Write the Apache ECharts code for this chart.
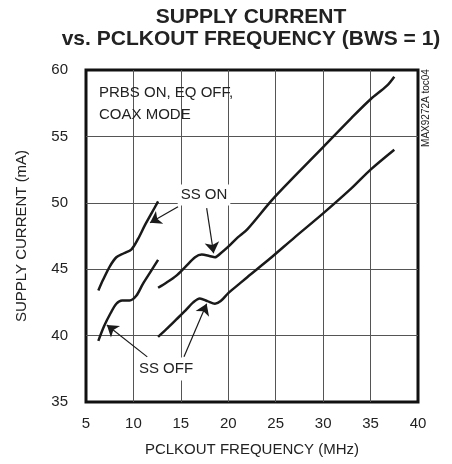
<!DOCTYPE html>
<html>
<head>
<meta charset="utf-8">
<script src="https://cdn.jsdelivr.net/npm/echarts@6/dist/echarts.min.js"></script>
<style>
  html, body { margin: 0; padding: 0; background: #fff; }
  #chart { width: 452px; height: 464px; }
</style>
</head>
<body>
<div id="chart"></div>
<script>
// curves, [MHz, mA]
const ssOnLow = [[6.3, 43.4], [6.8, 44.2], [7.5, 45.2], [8.2, 45.9], [9.0, 46.2], [9.8, 46.5],
  [10.5, 47.3], [11.2, 48.3], [11.9, 49.2], [12.6, 50.1]]
const ssOffLow = [[6.3, 39.6], [6.9, 40.7], [7.6, 41.7], [8.2, 42.4], [8.8, 42.65], [9.6, 42.65],
  [10.3, 43.0], [11.0, 43.9], [11.8, 44.8], [12.6, 45.7]]
const ssOnHigh = [[12.6, 43.6], [13.5, 44.0], [14.5, 44.5], [15.5, 45.2], [16.5, 45.9], [17.2, 46.1],
  [18.0, 46.0], [18.6, 45.9], [19.2, 46.2], [20.0, 46.7], [21.0, 47.4], [22.0, 48.0], [24.6, 50.2],
  [27, 52.0], [30, 54.2], [33, 56.4], [35, 57.8], [36.7, 58.8], [37.5, 59.5]]
const ssOffHigh = [[12.6, 39.9], [13.5, 40.5], [14.5, 41.2], [15.5, 41.9], [16.3, 42.5], [17.0, 42.8],
  [17.8, 42.6], [18.6, 42.4], [19.2, 42.6], [20.0, 43.2], [21.0, 43.8], [22.0, 44.4], [24.4, 45.8],
  [27, 47.4], [30, 49.2], [33, 51.1], [35, 52.5], [37.5, 54.0]]

// annotation arrows, [from, to] in data units
const ssOnArrows = [[[14.7, 49.7], [11.75, 48.5]], [[17.72, 49.6], [18.45, 46.2]]]
const ssOffArrows = [[[11.46, 38.4], [7.2, 40.8]], [[15.33, 38.4], [17.72, 42.4]]]

const xRange = [5, 40]
const yRange = [35, 60]

const FONT = '"Liberation Sans", Arial, sans-serif'
const INK = '#1a1a1a'

const chart = echarts.init(document.getElementById('chart'))

function curve(data, arrows) {
  const s = {
    type: 'line',
    data: data,
    smooth: 0.3,
    showSymbol: false,
    silent: true,
    lineStyle: { color: INK, width: 2.5 }
  }
  if (arrows) {
    s.markLine = {
      silent: true,
      symbol: ['none', 'arrow'],
      symbolSize: 11,
      label: { show: false },
      lineStyle: { color: INK, width: 1.2, type: 'solid' },
      data: arrows.map(a => [{ coord: a[0] }, { coord: a[1] }])
    }
  }
  return s
}

function label(text, x, y, opts) {
  return {
    type: 'text',
    x: x,
    y: y,
    z: 20,
    rotation: (opts && opts.rotation) || 0,
    style: Object.assign({
      text: text,
      font: '15px ' + FONT,
      fill: '#222',
      align: 'center',
      verticalAlign: 'middle'
    }, opts && opts.style)
  }
}

const TITLE_FONT = 'bold 21px ' + FONT

const option = {
  animation: false,
  grid: {
    left: 86, right: 34, top: 70, bottom: 62,
    outerBoundsMode: 'none',
    show: true,
    borderColor: '#111',
    borderWidth: 3
  },
  xAxis: {
    type: 'value',
    min: xRange[0], max: xRange[1], interval: 5,
    name: 'PCLKOUT FREQUENCY (MHz)',
    nameLocation: 'middle',
    nameGap: 40,
    nameTextStyle: { fontFamily: FONT, fontSize: 15, color: '#222' },
    axisLine: { show: false },
    axisTick: { show: false },
    axisLabel: { fontFamily: FONT, fontSize: 15, color: '#222', margin: 14 },
    splitLine: { showMinLine: false, showMaxLine: false, lineStyle: { color: '#555', width: 1 } }
  },
  yAxis: {
    type: 'value',
    min: yRange[0], max: yRange[1], interval: 5,
    name: 'SUPPLY CURRENT (mA)',
    nameLocation: 'middle',
    nameGap: 57,
    nameTextStyle: { fontFamily: FONT, fontSize: 15, color: '#222' },
    axisLine: { show: false },
    axisTick: { show: false },
    axisLabel: { fontFamily: FONT, fontSize: 15, color: '#222', margin: 18 },
    splitLine: { showMinLine: false, showMaxLine: false, lineStyle: { color: '#555', width: 1 } }
  },
  graphic: [
    label('SUPPLY CURRENT', 251, 17, { style: { font: TITLE_FONT } }),
    label('vs. PCLKOUT FREQUENCY (BWS = 1)', 251, 39, { style: { font: TITLE_FONT } }),
    label('PRBS ON, EQ OFF,', 99, 93, { style: { align: 'left' } }),
    label('COAX MODE', 99, 115, { style: { align: 'left' } }),
    label('SS ON', 204, 195, { style: { backgroundColor: '#fff', padding: [3, 3] } }),
    label('SS OFF', 166, 369, { style: { backgroundColor: '#fff', padding: [4, 3] } }),
    label('MAX9272A toc04', 426, 108, { rotation: Math.PI / 2, style: { font: '10px ' + FONT } })
  ],
  series: [
    curve(ssOnLow, ssOnArrows),
    curve(ssOffLow, ssOffArrows),
    curve(ssOnHigh),
    curve(ssOffHigh)
  ]
}

chart.setOption(option)
</script>
</body>
</html>
